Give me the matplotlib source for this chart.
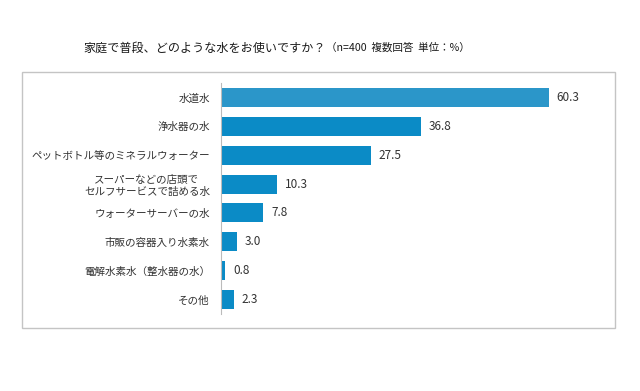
import matplotlib.pyplot as plt
from matplotlib.patches import Rectangle

plt.rcParams['font.family'] = ['Noto Sans CJK JP', 'DejaVu Sans']

categories = ['水道水', '浄水器の水', 'ペットボトル等のミネラルウォーター',
              'スーパーなどの店頭で\nセルフサービスで詰める水', 'ウォーターサーバーの水',
              '市販の容器入り水素水', '電解水素水（整水器の水）', 'その他']
values = [60.3, 36.8, 27.5, 10.3, 7.8, 3.0, 0.8, 2.3]
bar_colors = ['#2b96c9'] + ['#0b8bc6'] * 7

W, H = 640, 391
fig = plt.figure(figsize=(W / 100, H / 100), dpi=100)

# outer frame
fig.patches.append(Rectangle((22 / W, 1 - 328 / H), (615 - 22) / W, (328 - 72) / H,
                             transform=fig.transFigure, fill=False,
                             edgecolor='#c4c4c4', linewidth=1.0))

fig.text(83 / W, 1 - 48 / H, '家庭で普段、どのような水をお使いですか？',
         fontsize=8.7, va='center', ha='left', color='#1a1a1a')
fig.text(326 / W, 1 - 48 / H, '（n=400  複数回答  単位：%）',
         fontsize=7.6, va='center', ha='left', color='#1a1a1a')

ax = fig.add_axes([221 / W, 1 - 314 / H, 381 / W, 231 / H])
y = list(range(len(categories)))
ax.barh(y, values, height=0.66, color=bar_colors)
ax.set_xlim(0, 70)
ax.set_ylim(len(categories) - 0.5, -0.5)

for yi, v in zip(y, values):
    ax.text(v + 1.4, yi, f'{v:.1f}', va='center', ha='left',
            fontsize=8.5, color='#333333')

ax.set_yticks(y)
ax.set_yticklabels(categories, fontsize=7.6, color='#333333', linespacing=1.2)
ax.tick_params(axis='y', length=0, pad=8)
ax.set_xticks([])
for s in ['top', 'right', 'bottom']:
    ax.spines[s].set_visible(False)
ax.spines['left'].set_color('#bbbbbb')
ax.spines['left'].set_linewidth(0.8)
for lbl in ax.get_yticklabels():
    lbl.set_multialignment('center')

fig.savefig('out.png', dpi=100)
